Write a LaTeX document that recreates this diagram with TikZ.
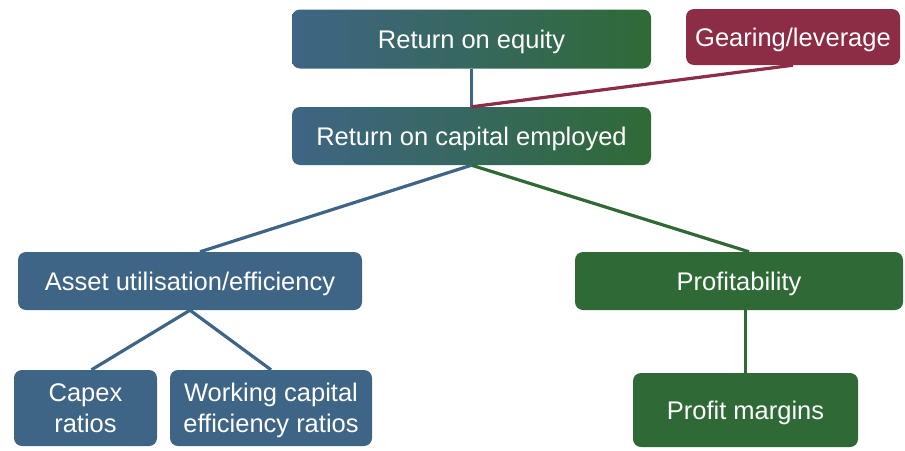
\documentclass[tikz,border=0pt]{standalone}
\usepackage{fontspec}
\setmainfont{Liberation Sans}
\definecolor{bleu}{HTML}{3E6585}
\definecolor{vert}{HTML}{2F6A36}
\definecolor{bordeaux}{HTML}{8C2C45}
\begin{document}
\begin{tikzpicture}[x=1pt,y=-1pt,
		boite/.style = {rounded corners=8pt, text=white, align=center, inner sep=0pt,
			text depth=0pt, font=\fontsize{25.5}{31}\selectfont},
		lien/.style = {line width = 3.2pt}]%arbre des ratios
		
		\useasboundingbox (0,0) rectangle (905,450);
		
		\node[boite, left color=bleu, right color=vert, minimum width=359, minimum height=59] (roe) at (471.5,39) {Return on equity};
		\node[boite, fill=bordeaux, minimum width=214, minimum height=56] (gear) at (793,37) {Gearing/leverage};
		\node[boite, left color=bleu, right color=vert, minimum width=359, minimum height=58] (roce) at (471.5,136) {Return on capital employed};
		
		\node[boite, fill=bleu, minimum width=344, minimum height=58] (asset) at (190,281) {Asset utilisation/efficiency};
		\node[boite, fill=vert, minimum width=328, minimum height=58] (profit) at (739,281) {Profitability};
		
		\node[boite, fill=bleu, minimum width=143, minimum height=76] (capex) at (85.5,408) {Capex\\ratios};
		\node[boite, fill=bleu, minimum width=202, minimum height=76] (wcap) at (271,408) {Working capital\\efficiency ratios};
		\node[boite, fill=vert, minimum width=225, minimum height=74] (marge) at (745.5,410) {Profit margins};
		
		\draw[lien, bleu] (roe.south) -- (roce.north);
		\draw[lien, bordeaux] (gear.south) -- (roce.north);
		\draw[lien, bleu] (roce.south) -- ([xshift=10]asset.north);
		\draw[lien, vert] (roce.south) -- ([xshift=10]profit.north);
		\draw[lien, bleu] (asset.south) -- ([xshift=6]capex.north);
		\draw[lien, bleu] (asset.south) -- (wcap.north);
		\draw[lien, vert] (profit.south -| marge.north) -- (marge.north);
	\end{tikzpicture}
\end{document}
